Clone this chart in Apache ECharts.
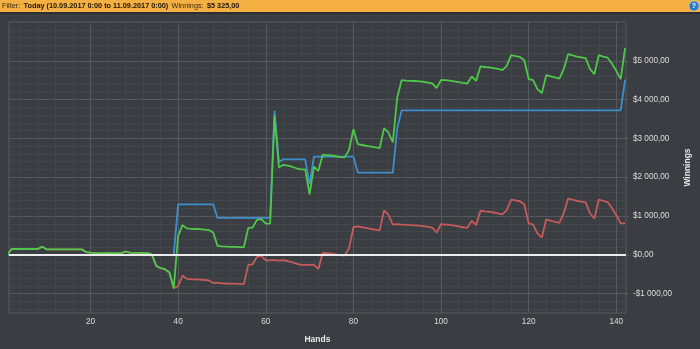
<!DOCTYPE html>
<html><head><meta charset="utf-8">
<script src="https://cdn.jsdelivr.net/npm/echarts@6/dist/echarts.min.js"></script>
<style>html,body{margin:0;padding:0;background:#3a3d41;}#c{width:700px;height:349px;}</style>
</head><body><div id="c"></div>
<script>
// ---- data ----
const headerFilter = 'Today (10.09.2017 0:00 to 11.09.2017 0:00)';
const headerWinnings = '$5 325,00';
const xLabelValues = [20, 40, 60, 80, 100, 120, 140];
const yLabelValues = [-1000, 0, 1000, 2000, 3000, 4000, 5000];
const firstHand = 1, lastHand = 142;

// Total winnings (green)
const totalWinnings = [
  0,150,150,150,150,150,150,150,210,140,
  140,140,140,140,140,140,140,140,70,55,
  45,45,45,45,45,45,45,85,55,50,
  50,45,45,10,-285,-345,-370,-455,-860,490,
  765,680,670,665,660,650,640,575,230,215,
  210,205,205,200,195,690,705,900,920,805,
  805,3580,2250,2320,2300,2270,2230,2200,2200,1560,
  2270,2165,2580,2570,2560,2540,2520,2510,2700,3240,
  2850,2830,2810,2790,2770,2750,3265,3150,2900,4055,
  4500,4490,4485,4480,4470,4460,4440,4420,4295,4510,
  4500,4490,4470,4450,4430,4415,4595,4485,4855,4840,
  4830,4810,4790,4760,4870,5145,5120,5100,5015,4530,
  4500,4270,4165,4630,4600,4570,4540,4785,5170,5140,
  5110,5090,5070,4785,4655,5145,5110,5080,4930,4740,
  4530,5325
];
// Showdown winnings (blue)
const showdownWinnings = [
  0,0,0,0,0,0,0,0,0,0,
  0,0,0,0,0,0,0,0,0,0,
  0,0,0,0,0,0,0,0,0,0,
  0,0,0,0,0,0,0,0,0,1300,
  1300,1300,1300,1300,1300,1300,1300,1300,950,950,
  950,950,950,950,950,950,950,950,950,950,
  950,3710,2400,2460,2460,2460,2460,2460,2460,1820,
  2530,2530,2530,2530,2530,2530,2530,2530,2530,2530,
  2120,2120,2120,2120,2120,2120,2120,2120,2120,3265,
  3720,3720,3720,3720,3720,3720,3720,3720,3720,3720,
  3720,3720,3720,3720,3720,3720,3720,3720,3720,3720,
  3720,3720,3720,3720,3720,3720,3720,3720,3720,3720,
  3720,3720,3720,3720,3720,3720,3720,3720,3720,3720,
  3720,3720,3720,3720,3720,3720,3720,3720,3720,3720,
  3720,4515
];
// Non-showdown winnings (red)
const nonShowdownWinnings = [
  0,150,150,150,150,150,150,150,210,140,
  140,140,140,140,140,140,140,140,70,55,
  45,45,45,45,45,45,45,85,55,50,
  50,45,45,10,-285,-345,-370,-455,-860,-810,
  -535,-620,-630,-635,-640,-650,-660,-725,-720,-735,
  -740,-745,-745,-750,-755,-260,-245,-50,-30,-145,
  -145,-130,-150,-140,-160,-190,-230,-260,-260,-260,
  -260,-365,50,40,30,10,-10,-20,170,710,
  730,710,690,670,650,630,1145,1030,780,790,
  780,770,765,760,750,740,720,700,575,790,
  780,770,750,730,710,695,875,765,1135,1120,
  1110,1090,1070,1040,1150,1425,1400,1380,1295,810,
  780,550,445,910,880,850,820,1065,1450,1420,
  1390,1370,1350,1065,935,1425,1390,1360,1210,1020,
  810,810
];

// ---- build ----
const hands = [];
for (let h = firstHand; h <= lastHand; h++) hands.push(h);
const pair = arr => hands.map((h, i) => [h, arr[i]]);

const xMinor = [];
for (let v = 4; v <= 140; v += 4) if (v % 20 !== 0) xMinor.push(v);
const yMinor = [];
for (let v = -1400; v <= 5800; v += 200) if (v % 1000 !== 0) yMinor.push(v);

function money(v) {
  const neg = v < 0; v = Math.abs(v);
  const s = String(Math.round(v)).replace(/\B(?=(\d{3})+(?!\d))/g, ' ');
  return (neg ? '-' : '') + '$' + s + ',00';
}

const FONT = 'Liberation Sans';
const MAJOR = '#56595e';
const MINOR = '#43464a';
const chart = echarts.init(document.getElementById('c'), null, {renderer: 'canvas'});
const grid = {left: 9, right: 71, top: 22, bottom: 36, show: true, borderColor: '#5a5d61', borderWidth: 1, backgroundColor: 'transparent'};

chart.setOption({
  animation: false,
  backgroundColor: '#3a3d41',
  textStyle: {fontFamily: FONT},
  grid: grid,
  xAxis: [{
    type: 'value', min: 1.4, max: 142.2,
    name: 'Hands', nameLocation: 'middle', nameGap: 22,
    nameTextStyle: {color: '#e8e8e8', fontWeight: 'bold', fontSize: 8.5, fontFamily: FONT},
    axisLine: {show: false},
    axisTick: {show: true, customValues: xLabelValues, length: 3, lineStyle: {color: MAJOR}},
    axisLabel: {customValues: xLabelValues, color: '#dcdcdc', fontSize: 8.2, margin: 5, fontFamily: FONT},
    splitLine: {show: true, lineStyle: {color: MAJOR, width: 1}}
  }, {
    type: 'value', min: 1.4, max: 142.2, position: 'bottom',
    axisLine: {show: false},
    axisTick: {show: true, customValues: xMinor, length: 2, lineStyle: {color: MINOR}},
    axisLabel: {show: false, customValues: xMinor},
    splitLine: {show: true, lineStyle: {color: MINOR, width: 1}}
  }],
  yAxis: [{
    type: 'value', position: 'right', min: -1500, max: 6000,
    name: 'Winnings', nameLocation: 'middle', nameGap: 51, nameRotate: 90,
    nameTextStyle: {color: '#e8e8e8', fontWeight: 'bold', fontSize: 8.5, fontFamily: FONT},
    axisLine: {show: false},
    axisTick: {show: true, customValues: yLabelValues, length: 3, lineStyle: {color: MAJOR}},
    axisLabel: {customValues: yLabelValues, formatter: money, color: '#dcdcdc', fontSize: 8.2, margin: 7, fontFamily: FONT},
    splitLine: {show: true, lineStyle: {color: MAJOR, width: 1}}
  }, {
    type: 'value', position: 'right', min: -1500, max: 6000,
    axisLine: {show: false},
    axisTick: {show: true, customValues: yMinor, length: 3, lineStyle: {color: MINOR}},
    axisLabel: {show: false, customValues: yMinor},
    splitLine: {show: true, lineStyle: {color: MINOR, width: 1}}
  }],
  series: [{
    name: 'Non-showdown', type: 'line', data: pair(nonShowdownWinnings), showSymbol: false,
    lineStyle: {color: '#c65b5b', width: 1.8}, itemStyle: {color: '#c65b5b'}, z: 2
  }, {
    name: 'Showdown', type: 'line', data: pair(showdownWinnings), showSymbol: false,
    lineStyle: {color: '#3f8fcd', width: 1.8}, itemStyle: {color: '#3f8fcd'}, z: 3
  }, {
    name: 'Total', type: 'line', data: pair(totalWinnings), showSymbol: false,
    lineStyle: {color: '#4fc74a', width: 1.8}, itemStyle: {color: '#4fc74a'}, z: 4,
    markLine: {
      silent: true, symbol: 'none', animation: false,
      label: {show: false},
      lineStyle: {color: '#ececec', width: 2, type: 'solid'},
      data: [{yAxis: 0}]
    }
  }],
  graphic: [
    {type: 'rect', shape: {x: 0, y: 0, width: 700, height: 12}, style: {fill: '#f4b043'}, z: 10},
    {type: 'rect', shape: {x: 0, y: 12, width: 700, height: 2}, style: {fill: '#2c2e31'}, z: 10},
    {type: 'text', x: 2, y: 6, z: 11, style: {
      text: '{n|Filter:} {b|' + headerFilter + '} {n|Winnings:} {b|' + headerWinnings + '}',
      verticalAlign: 'middle',
      rich: {
        n: {fontSize: 7.3, fontFamily: FONT, fill: '#3b2b12', fontWeight: 'normal'},
        b: {fontSize: 7.3, fontFamily: FONT, fill: '#1e1608', fontWeight: 'bold'}
      }
    }},
    {type: 'circle', shape: {cx: 694, cy: 6, r: 5}, style: {fill: '#2f79be', stroke: '#9cc4ea', lineWidth: 0.8}, z: 11},
    {type: 'text', x: 694, y: 6.3, z: 12, style: {text: '?', fill: '#ffffff', fontSize: 7, fontWeight: 'bold', fontFamily: FONT, align: 'center', verticalAlign: 'middle'}}
  ]
});
</script></body></html>
